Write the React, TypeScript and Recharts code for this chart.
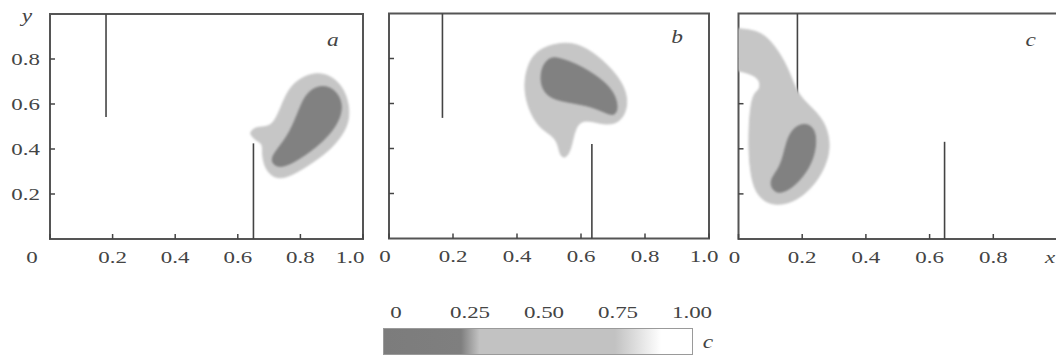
import { ScatterChart, Scatter, XAxis, YAxis, ReferenceLine, ReferenceArea, ReferenceDot } from 'recharts'

type Pt = { x: number; y: number }

const xTicks = [0, 0.2, 0.4, 0.6, 0.8, 1]
const yTicks = [0.2, 0.4, 0.6, 0.8]
const xLabelsAB = ['0', '0.2', '0.4', '0.6', '0.8', '1.0']
const xLabelsC = ['0', '0.2', '0.4', '0.6', '0.8', 'x']
const yLabels = ['0.2', '0.4', '0.6', '0.8']
const barLabels = ['0', '0.25', '0.50', '0.75', '1.00']
const barValues = [0, 0.25, 0.5, 0.75, 1]

// outlines of the c < 0.75 (light) and c < 0.25 (dark) regions
const outerA: Pt[] = [
  { x: 0.639, y: 0.476 }, { x: 0.661, y: 0.502 }, { x: 0.713, y: 0.493 }, { x: 0.745, y: 0.618 },
  { x: 0.777, y: 0.698 }, { x: 0.841, y: 0.742 }, { x: 0.895, y: 0.729 }, { x: 0.937, y: 0.676 },
  { x: 0.958, y: 0.587 }, { x: 0.953, y: 0.498 }, { x: 0.905, y: 0.409 }, { x: 0.852, y: 0.351 },
  { x: 0.777, y: 0.284 }, { x: 0.724, y: 0.262 }, { x: 0.687, y: 0.307 }, { x: 0.677, y: 0.382 },
  { x: 0.681, y: 0.425 }, { x: 0.655, y: 0.44 }, { x: 0.642, y: 0.462 },
]
const innerA: Pt[] = [
  { x: 0.863, y: 0.684 }, { x: 0.905, y: 0.671 }, { x: 0.932, y: 0.618 }, { x: 0.932, y: 0.551 },
  { x: 0.9, y: 0.471 }, { x: 0.841, y: 0.396 }, { x: 0.767, y: 0.329 }, { x: 0.724, y: 0.316 },
  { x: 0.703, y: 0.351 }, { x: 0.724, y: 0.396 }, { x: 0.767, y: 0.471 }, { x: 0.799, y: 0.587 },
  { x: 0.821, y: 0.653 },
]
const outerB: Pt[] = [
  { x: 0.524, y: 0.868 }, { x: 0.461, y: 0.838 }, { x: 0.43, y: 0.764 }, { x: 0.42, y: 0.66 },
  { x: 0.441, y: 0.556 }, { x: 0.472, y: 0.49 }, { x: 0.508, y: 0.46 }, { x: 0.529, y: 0.423 },
  { x: 0.534, y: 0.364 }, { x: 0.555, y: 0.356 }, { x: 0.571, y: 0.408 }, { x: 0.581, y: 0.49 },
  { x: 0.607, y: 0.534 }, { x: 0.67, y: 0.504 }, { x: 0.722, y: 0.512 }, { x: 0.748, y: 0.586 },
  { x: 0.738, y: 0.675 }, { x: 0.691, y: 0.764 }, { x: 0.628, y: 0.838 }, { x: 0.576, y: 0.87 },
]
const innerB: Pt[] = [
  { x: 0.503, y: 0.808 }, { x: 0.477, y: 0.764 }, { x: 0.472, y: 0.69 }, { x: 0.493, y: 0.63 },
  { x: 0.545, y: 0.608 }, { x: 0.618, y: 0.593 }, { x: 0.67, y: 0.564 }, { x: 0.706, y: 0.541 },
  { x: 0.717, y: 0.586 }, { x: 0.701, y: 0.66 }, { x: 0.649, y: 0.724 }, { x: 0.586, y: 0.776 },
  { x: 0.534, y: 0.801 },
]
const outerC: Pt[] = [
  { x: -0.03, y: 0.935 }, { x: 0.047, y: 0.929 }, { x: 0.089, y: 0.899 }, { x: 0.13, y: 0.825 },
  { x: 0.162, y: 0.736 }, { x: 0.183, y: 0.648 }, { x: 0.225, y: 0.588 }, { x: 0.267, y: 0.529 },
  { x: 0.288, y: 0.44 }, { x: 0.282, y: 0.351 }, { x: 0.245, y: 0.248 }, { x: 0.183, y: 0.166 },
  { x: 0.109, y: 0.144 }, { x: 0.057, y: 0.188 }, { x: 0.036, y: 0.292 }, { x: 0.031, y: 0.44 },
  { x: 0.036, y: 0.573 }, { x: 0.047, y: 0.648 }, { x: 0.068, y: 0.662 }, { x: 0.068, y: 0.707 },
  { x: 0.036, y: 0.736 }, { x: -0.03, y: 0.755 }, { x: -0.1, y: 0.75 }, { x: -0.1, y: 0.94 },
]
const innerC: Pt[] = [
  { x: 0.204, y: 0.514 }, { x: 0.172, y: 0.492 }, { x: 0.152, y: 0.44 }, { x: 0.141, y: 0.366 },
  { x: 0.125, y: 0.307 }, { x: 0.094, y: 0.255 }, { x: 0.115, y: 0.196 }, { x: 0.162, y: 0.218 },
  { x: 0.204, y: 0.277 }, { x: 0.235, y: 0.351 }, { x: 0.246, y: 0.44 }, { x: 0.235, y: 0.499 },
]

// barriers: [x, y from, y to]
const barriersA = [[0.179, 0.542, 1], [0.65, 0, 0.425]]
const barriersB = [[0.167, 0.536, 1], [0.634, 0, 0.42]]
const barriersC = [[0.185, 0.551, 1], [0.647, 0, 0.431]]

const DARK = '#818181'
const LIGHT = '#c6c6c6'
const INK = '#444'
const FONT = '"Liberation Serif", "Times New Roman", serif'
const SX = 1.35

type PanelCfg = {
  left: number
  width: number
  margin: { top: number; right: number; bottom: number; left: number }
  outer: Pt[]
  inner: Pt[]
  barriers: number[][]
  xLabels: string[]
  zeroShift: number
  endShift: number
  showY: boolean
  letter: string
  letterPos: Pt
}

const panels: PanelCfg[] = [
  {
    left: 0, width: 378, margin: { top: 14, right: 15, bottom: 11, left: 10 },
    outer: outerA, inner: innerA, barriers: barriersA, xLabels: xLabelsAB,
    zeroShift: -18, endShift: -13, showY: true, letter: 'a', letterPos: { x: 0.904, y: 0.884 },
  },
  {
    left: 345, width: 375, margin: { top: 13.5, right: 11, bottom: 11.5, left: 4 },
    outer: outerB, inner: innerB, barriers: barriersB, xLabels: xLabelsAB,
    zeroShift: -4, endShift: -5, showY: false, letter: 'b', letterPos: { x: 0.9, y: 0.896 },
  },
  {
    left: 694, width: 372, margin: { top: 13.5, right: 9, bottom: 11, left: 4.5 },
    outer: outerC, inner: innerC, barriers: barriersC, xLabels: xLabelsC,
    zeroShift: -4, endShift: -7, showY: false, letter: 'c', letterPos: { x: 0.917, y: 0.884 },
  },
]

const noShape = () => <g />

function Panel({ p }: { p: PanelCfg }) {
  const xTick = (props: any) => {
    const { x, y, payload } = props
    const i = xTicks.indexOf(payload.value)
    const dx = i === 0 ? p.zeroShift : i === xTicks.length - 1 ? p.endShift : 0
    const italic = p.xLabels[i] === 'x'
    return (
      <text transform={`translate(${x + dx},${y}) scale(${SX},1)`} textAnchor="middle" dy="0.35em"
        fontFamily={FONT} fontSize={17} fontStyle={italic ? 'italic' : 'normal'} fill={INK}>
        {p.xLabels[i]}
      </text>
    )
  }
  const yTick = (props: any) => {
    const { x, y, payload } = props
    if (!p.showY) return <g />
    const i = yTicks.indexOf(payload.value)
    return (
      <text transform={`translate(${x},${y}) scale(${SX},1)`} textAnchor="end" dy="0.35em"
        fontFamily={FONT} fontSize={17} fill={INK}>
        {yLabels[i]}
      </text>
    )
  }
  const letterLabel = (props: any) => {
    const { viewBox } = props
    return (
      <text transform={`translate(${viewBox.x},${viewBox.y}) scale(1.3,1)`} textAnchor="middle" dy="0.35em"
        fontFamily={FONT} fontSize={18} fontStyle="italic" fill={INK}>
        {p.letter}
      </text>
    )
  }
  const yAxisLabel = (props: any) => {
    const { viewBox } = props
    return (
      <text transform={`translate(${viewBox.x + 17},${viewBox.y + 8}) scale(1.3,1)`} textAnchor="middle"
        fontFamily={FONT} fontSize={18} fontStyle="italic" fill={INK}>
        y
      </text>
    )
  }
  return (
    <div style={{ position: 'absolute', left: p.left, top: 0 }}>
      <ScatterChart width={p.width} height={280} margin={p.margin}>
        <XAxis type="number" dataKey="x" domain={[0, 1]} allowDataOverflow ticks={xTicks} interval={0}
          axisLine={false} tickSize={-5} tickMargin={23} height={30}
          tickLine={{ stroke: INK, strokeWidth: 1.5 }} tick={xTick} />
        <YAxis type="number" dataKey="y" domain={[0, 1]} allowDataOverflow ticks={yTicks} interval={0}
          axisLine={false} tickSize={-5} tickMargin={15} width={40}
          tickLine={{ stroke: INK, strokeWidth: 1.5 }} tick={yTick}
          label={p.showY ? { content: yAxisLabel } : undefined} />
        <Scatter data={p.outer} fill={LIGHT} shape={noShape} isAnimationActive={false} legendType="none"
          line={{ fill: LIGHT, stroke: LIGHT, strokeWidth: 1, filter: 'url(#soft)' }}
          lineType="joint" lineJointType="basisClosed" />
        <Scatter data={p.inner} fill={DARK} shape={noShape} isAnimationActive={false} legendType="none"
          line={{ fill: DARK, stroke: DARK, strokeWidth: 1, filter: 'url(#soft)' }}
          lineType="joint" lineJointType="basisClosed" />
        {p.barriers.map((b, k) => (
          <ReferenceLine key={k} segment={[{ x: b[0], y: b[1] }, { x: b[0], y: b[2] }]}
            stroke={INK} strokeWidth={1.6} />
        ))}
        <ReferenceArea x1={0} x2={1} y1={0} y2={1} fill="none" stroke="#555" strokeWidth={2} ifOverflow="visible" />
        <ReferenceDot x={p.letterPos.x} y={p.letterPos.y} r={0} fill="none" stroke="none"
          label={{ content: letterLabel }} />
      </ScatterChart>
    </div>
  )
}

export default function App() {
  const barLeft = 383
  const barWidth = 310
  return (
    <div style={{ position: 'absolute', left: 0, top: 0, width: 1056, height: 360, overflow: 'hidden', background: '#fff' }}>
      <svg width={0} height={0} style={{ position: 'absolute' }}>
        <defs>
          <filter id="soft" x="-10%" y="-10%" width="120%" height="120%">
            <feGaussianBlur stdDeviation={0.9} />
          </filter>
        </defs>
      </svg>
      {panels.map((p) => (
        <Panel key={p.letter} p={p} />
      ))}
      <div style={{
        position: 'absolute', left: barLeft, top: 328, width: barWidth, height: 27, boxSizing: 'border-box',
        border: '1px solid #9a9a9a',
        background: 'linear-gradient(to right, #7c7c7c 0%, #7f7f7f 25%, #c2c2c2 31%, #c2c2c2 75%, #ffffff 90%, #ffffff 100%)',
      }} />
      {barValues.map((v, i) => (
        <span key={i} style={{
          position: 'absolute', left: 396 + v * 296, top: 302, fontFamily: FONT, fontSize: 17, color: INK,
          transform: `translateX(-50%) scaleX(${SX})`, whiteSpace: 'nowrap', lineHeight: '22px',
        }}>{barLabels[i]}</span>
      ))}
      <span style={{
        position: 'absolute', left: 708, top: 331, fontFamily: FONT, fontSize: 18, fontStyle: 'italic', color: INK,
        transform: 'translateX(-50%) scaleX(1.3)', lineHeight: '22px',
      }}>c</span>
    </div>
  )
}
